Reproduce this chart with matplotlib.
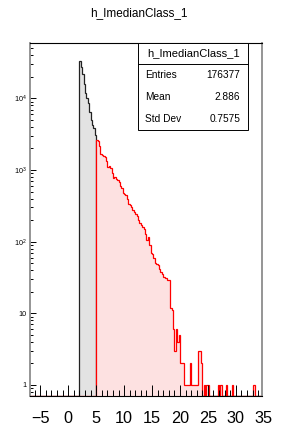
import numpy as np
import matplotlib
matplotlib.use('Agg')
import matplotlib.pyplot as plt
from matplotlib.patches import Rectangle
from matplotlib.lines import Line2D
from matplotlib.ticker import FixedLocator, FixedFormatter, LogLocator, NullFormatter, MultipleLocator
import matplotlib.transforms as mtransforms

plt.rcParams['font.family'] = ['Liberation Sans', 'DejaVu Sans']
plt.rcParams['mathtext.fontset'] = 'custom'
plt.rcParams['mathtext.rm'] = 'Liberation Sans'
plt.rcParams['mathtext.it'] = 'Liberation Sans:italic'

# ---------------- data ----------------
title = "h_ImedianClass_1"
bin_width = 0.25
black_start = 2.0
black_counts = [33000, 27500, 22000, 16000, 12000, 10000, 8500, 6500, 5000, 4200, 3900, 3100]
red_start = 5.0
red_counts = [2640, 2550, 2200, 1700, 1630, 1580, 1540, 1350, 1115, 1150, 1060, 900,
              780, 800, 740, 730, 680, 590, 560, 475, 470, 450, 400, 340,
              325, 300, 275, 260, 240, 225, 200, 180, 170, 160, 150, 130,
              106, 118, 90, 69, 68, 60, 50, 49, 47, 42, 38, 35,
              32, 31, 31, 29, 29, 12, 11, 6, 3, 6, 4, 5,
              2, 2, 2, 1, 1, 1, 1, 2, 1, 1, 1, 1,
              1, 3, 3, 2, 0, 1, 0, 1, 1, 0, 0, 0,
              0, 0, 0, 1, 0, 1, 0, 0, 0, 1, 0, 0,
              0, 1, 0, 0, 0, 0, 0, 0, 0, 0, 0, 0,
              0, 0, 0, 0, 1, 1]
x_ticks = [-5, 0, 5, 10, 15, 20, 25, 30, 35]
y_ticks = [1, 10, 100, 1000, 10000]
y_tick_labels = ['1', '10', '$10^{2}$', '$10^{3}$', '$10^{4}$']
stat_names = ['Entries', 'Mean', 'Std Dev']
stat_values = ['176377', '2.886', '0.7575']

# ---------------- figure ----------------
W, H = 285, 429
fig = plt.figure(figsize=(W / 100, H / 100), dpi=100)
L, R, T, B = 30, 262, 42.7, 396
ax = fig.add_axes([L / W, 1 - B / H, (R - L) / W, (B - T) / H])

xmin, xmax = -6.85, 34.7
ymin, ymax = 0.70, 60000

edges = np.arange(-7.0, 35.0 + bin_width / 2, bin_width)
nb = len(edges) - 1


def full(start, counts):
    arr = np.zeros(nb)
    i0 = int(round((start - edges[0]) / bin_width))
    arr[i0:i0 + len(counts)] = counts
    return np.maximum(arr, ymin)


blk = full(black_start, black_counts)
red = full(red_start, red_counts)

ax.stairs(blk, edges, baseline=ymin, fill=True, color='#e3e3e3', lw=0)
ax.stairs(blk, edges, baseline=None, color='#222222', lw=0.9)
ax.stairs(red, edges, baseline=ymin, fill=True, color='#fde1e1', lw=0)
ax.stairs(red, edges, baseline=None, color='#ff0000', lw=0.9)

ax.set_yscale('log')
ax.set_xlim(xmin, xmax)
ax.set_ylim(ymin, ymax)

ax.xaxis.set_major_locator(FixedLocator([t for t in x_ticks if t <= xmax]))
ax.xaxis.set_minor_locator(MultipleLocator(1))
ax.yaxis.set_major_locator(FixedLocator(y_ticks))
ax.yaxis.set_major_formatter(FixedFormatter(y_tick_labels))
ax.yaxis.set_minor_locator(LogLocator(base=10, subs=range(2, 10)))
ax.yaxis.set_minor_formatter(NullFormatter())

ax.tick_params(axis='x', which='major', direction='in', length=8, width=0.7,
               labelsize=11.7, pad=11)
ax.tick_params(axis='x', which='minor', direction='in', length=4.3, width=0.7)
ax.tick_params(axis='y', which='major', direction='in', length=4.3, width=0.7,
               labelsize=5.2, pad=2.2)
ax.tick_params(axis='y', which='minor', direction='in', length=2.2, width=0.7)

# tick label that ROOT draws just beyond the frame edge
label_trans = mtransforms.blended_transform_factory(ax.transData, ax.transAxes) + \
    mtransforms.ScaledTranslation(0, -11 / 72, fig.dpi_scale_trans)
for t in x_ticks:
    if t > xmax:
        ax.text(t, 0, str(t), transform=label_trans, ha='center', va='top',
                fontsize=11.7, clip_on=False)

ax.spines['left'].set_color('#8c8c8c')
ax.spines['left'].set_linewidth(1.3)
ax.spines['right'].set_color('#8c8c8c')
ax.spines['right'].set_linewidth(1.3)
ax.spines['top'].set_linewidth(0.8)
ax.spines['bottom'].set_linewidth(0.8)

# title
fig.text(139 / W, 1 - 13.3 / H, title, ha='center', va='center', fontsize=8.5)

# stats box
bx0, bx1, by0, by1 = 138.3, 248.3, 42.7, 130
fig.add_artist(Rectangle((bx0 / W, 1 - by1 / H), (bx1 - bx0) / W, (by1 - by0) / H,
                         transform=fig.transFigure, facecolor='white',
                         edgecolor='black', lw=0.7))
fig.add_artist(Line2D([bx0 / W, bx1 / W], [1 - 64 / H, 1 - 64 / H],
                      transform=fig.transFigure, color='black', lw=0.7))
fig.text((bx0 + bx1) / 2 / W, 1 - 53.3 / H, title, ha='center', va='center', fontsize=8)
row_y = [75, 96.7, 119.3]
for name, val, yy in zip(stat_names, stat_values, row_y):
    fig.text(145 / W, 1 - yy / H, name, ha='left', va='center', fontsize=7.3)
    fig.text(240 / W, 1 - yy / H, val, ha='right', va='center', fontsize=7.3)

fig.savefig('out.png', dpi=100)
